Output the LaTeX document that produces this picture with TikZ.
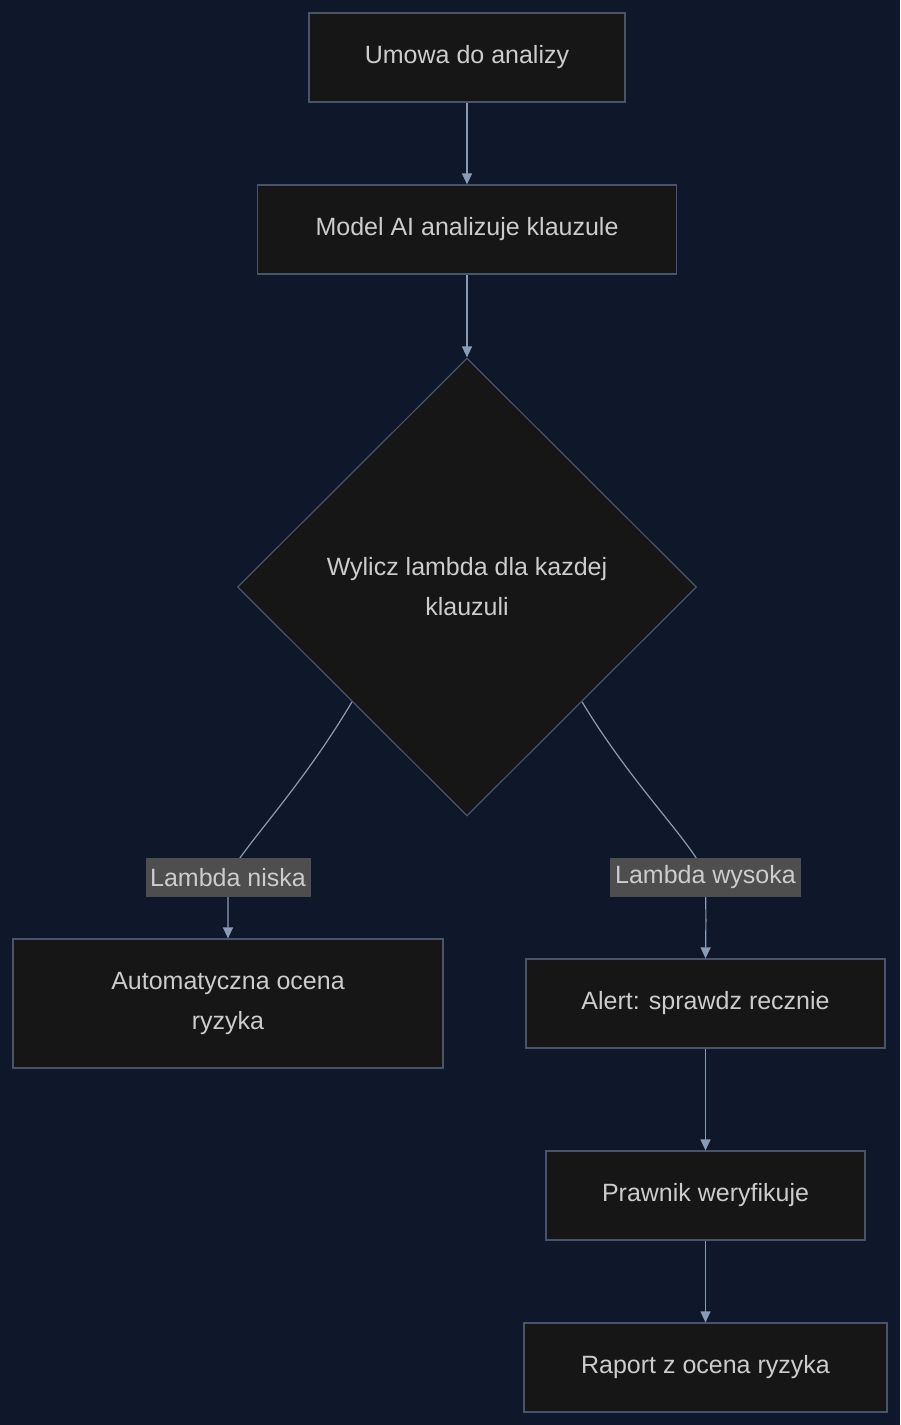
\documentclass[tikz,border=0pt]{standalone}
\usepackage{fontspec}
\setmainfont{Liberation Sans}
\usetikzlibrary{shapes.geometric,arrows.meta}
\definecolor{bgc}{RGB}{15,23,42}
\definecolor{boxc}{RGB}{22,22,22}
\definecolor{edgec}{RGB}{72,84,105}
\definecolor{txtc}{RGB}{204,204,204}
\definecolor{linec}{RGB}{138,155,181}
\definecolor{lblc}{RGB}{78,78,78}
\begin{document}
\begin{tikzpicture}[
  x=1pt, y=-1pt,
  font=\fontsize{25}{40}\selectfont,
  box/.style={rectangle, draw=edgec, line width=1.2pt, fill=boxc, text=txtc, inner sep=0pt, align=center},
  decision/.style={diamond, draw=edgec, line width=1.2pt, fill=boxc, text=txtc, inner sep=0pt, minimum width=459pt, minimum height=458pt, align=center, aspect=1},
  edge_label/.style={rectangle, fill=lblc, text=txtc, inner sep=0pt, minimum height=39pt},
  flow/.style={draw=linec, line width=1.2pt, -{Triangle[length=11pt,width=10pt]}},
]
\fill[bgc] (0,0) rectangle (900,1425);
\node (umowa) [box, minimum width=316pt, minimum height=89pt] at (467,57.5) {Umowa do analizy};
\node (model) [box, minimum width=419pt, minimum height=89pt] at (467,229.5) {Model AI analizuje klauzule};
\node (lambda) [decision] at (467,587) {Wylicz lambda dla kazdej\\klauzuli};
\node (auto) [box, minimum width=430pt, minimum height=129pt] at (228,1003.5) {Automatyczna ocena\\ryzyka};
\node (alert) [box, minimum width=359pt, minimum height=89pt] at (705.5,1003.5) {Alert: sprawdz recznie};
\node (prawnik) [box, minimum width=319pt, minimum height=89pt] at (705.5,1195.5) {Prawnik weryfikuje};
\node (raport) [box, minimum width=363pt, minimum height=89pt] at (705.5,1367.5) {Raport z ocena ryzyka};
\coordinate (niska_c) at (228,877.5);
\coordinate (wysoka_c) at (705.5,877.5);

\draw [flow] (umowa) -- (model);
\draw [flow] (model) -- (lambda.north);
\draw [flow] (lambda.south west) .. controls (300,790) and (240,850) .. (niska_c) .. controls (228,910) .. (auto.north);
\draw [flow] (lambda.south east) .. controls (635,790) and (700,850) .. (wysoka_c) .. controls (706,920) .. (alert.north);
\draw [flow] (alert) -- (prawnik);
\draw [flow] (prawnik) -- (raport);

\node (niska) [edge_label, minimum width=165pt] at (niska_c) {Lambda niska};
\node (wysoka) [edge_label, minimum width=191pt] at (wysoka_c) {Lambda wysoka};
\end{tikzpicture}
\end{document}
